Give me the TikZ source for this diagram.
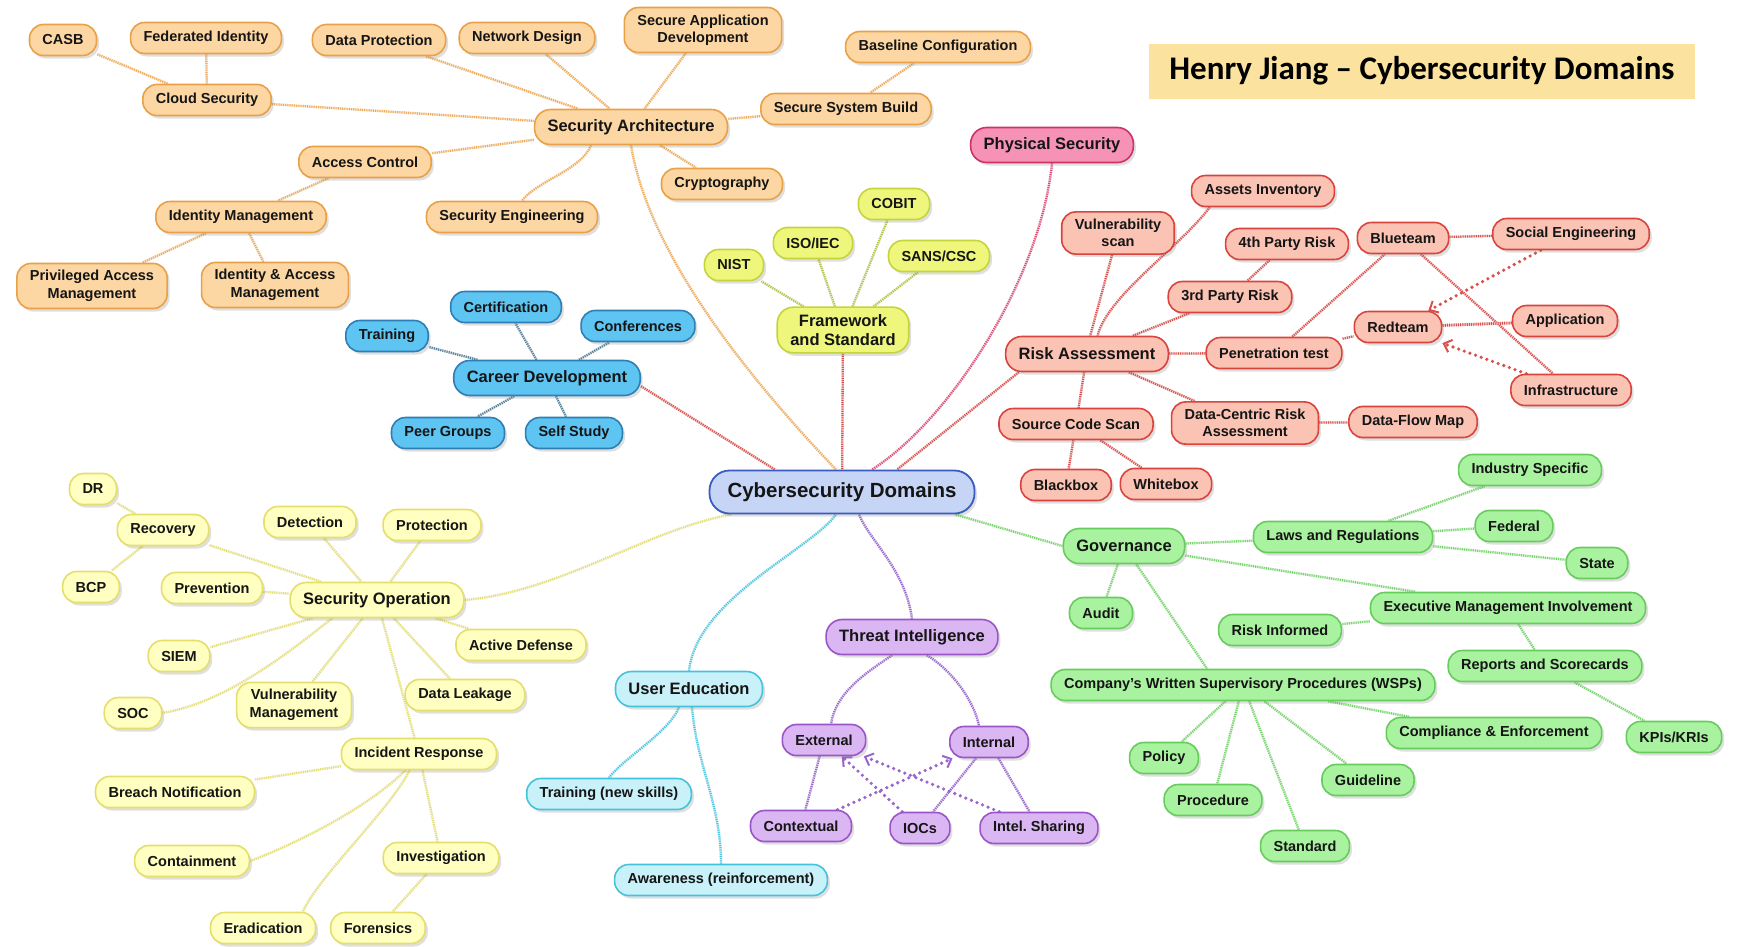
\documentclass[tikz,border=0pt]{standalone}
\usepackage{fontspec}
\setmainfont{Liberation Sans}
\newfontfamily\titlefont{Carlito}
\usetikzlibrary{shadows,arrows.meta,calc}
\pgfdeclarelayer{bg}
\pgfdeclarelayer{links}
\pgfsetlayers{bg,links,main}

\definecolor{orF}{HTML}{FDD7A3}\definecolor{orD}{HTML}{E9A046}\definecolor{orL}{HTML}{EDAA5A}
\definecolor{blF}{HTML}{5EC4F2}\definecolor{blD}{HTML}{2D7FB5}\definecolor{blL}{HTML}{557F99}
\definecolor{ygF}{HTML}{EEF77C}\definecolor{ygD}{HTML}{C4D43C}\definecolor{ygL}{HTML}{B3C24A}
\definecolor{pkF}{HTML}{F592B5}\definecolor{pkD}{HTML}{CC3366}\definecolor{pkL}{HTML}{DC4C74}
\definecolor{rdF}{HTML}{FAC3B3}\definecolor{rdD}{HTML}{D9443F}\definecolor{rdL}{HTML}{D9504C}
\definecolor{ceF}{HTML}{C6D4F6}\definecolor{ceD}{HTML}{3A5CC0}
\definecolor{grF}{HTML}{A9F2A0}\definecolor{grD}{HTML}{66CC5C}\definecolor{grL}{HTML}{77D46C}
\definecolor{puF}{HTML}{DAB6F2}\definecolor{puD}{HTML}{9C55C8}\definecolor{puL}{HTML}{9966CC}
\definecolor{cyF}{HTML}{C9F1F9}\definecolor{cyD}{HTML}{45C3DB}\definecolor{cyL}{HTML}{4CC6DE}
\definecolor{yeF}{HTML}{FFFFC2}\definecolor{yeD}{HTML}{E6DE6A}\definecolor{yeL}{HTML}{E3DD78}
\definecolor{titleF}{HTML}{FBE29F}
\definecolor{txt}{HTML}{151515}

\tikzset{
  box/.style={rectangle, rounded corners=14pt, line width=1.6pt, align=center, text=txt,
    font=\bfseries\fontsize{14.5}{17.5}\selectfont, inner xsep=13pt, inner ysep=5pt,
    minimum height=31pt,
    drop shadow={shadow xshift=2.5pt, shadow yshift=-3pt, opacity=0.25}},
  mid/.style={font=\bfseries\fontsize{16.5}{19.5}\selectfont, minimum height=35pt, rounded corners=16pt},
  two/.style={inner ysep=7pt},
  cen/.style={box, draw=ceD, fill=ceF, font=\bfseries\fontsize{20.5}{24}\selectfont,
    minimum height=43pt, rounded corners=20pt, inner xsep=18pt, line width=1.8pt},
  orn/.style={box, draw=orD, fill=orF},
  bln/.style={box, draw=blD, fill=blF},
  ygn/.style={box, draw=ygD, fill=ygF},
  pkn/.style={box, draw=pkD, fill=pkF},
  rdn/.style={box, draw=rdD, fill=rdF},
  grn/.style={box, draw=grD, fill=grF},
  pun/.style={box, draw=puD, fill=puF},
  cyn/.style={box, draw=cyD, fill=cyF},
  yen/.style={box, draw=yeD, fill=yeF},
  lk/.style={draw=#1, line width=2.3pt, dash pattern=on 1pt off 1.2pt,
    preaction={draw=#1!30, line width=2.3pt, solid}},
  ar/.style={draw=#1, line width=3.6pt, line cap=round, dash pattern=on 0pt off 6pt,
    -{Straight Barb[length=7pt,width=13pt,line width=2pt]}},
}

\begin{document}
\begin{tikzpicture}[x=1pt,y=-1pt]
\useasboundingbox (0,0) rectangle (1737,946);
\begin{pgfonlayer}{bg}
\fill[white] (0,0) rectangle (1737,946);
\end{pgfonlayer}

% title
\node[fill=titleF, minimum width=546pt, minimum height=55pt, inner sep=0pt,
  font=\titlefont\bfseries\fontsize{33}{38}\selectfont, text=black] (title) at (1422,71)
  {Henry Jiang – Cybersecurity Domains};

% central
\node[cen] (c) at (842,492) {Cybersecurity Domains};

% security architecture
\node[orn] (casb) at (63,40) {CASB};
\node[orn] (fed) at (206,38) {Federated Identity};
\node[orn] (cloud) at (207,100) {Cloud Security};
\node[orn] (dprot) at (379,40) {Data Protection};
\node[orn] (netd) at (527,38) {Network Design};
\node[orn,two] (sad) at (703,30) {Secure Application\\Development};
\node[orn] (base) at (938,47) {Baseline Configuration};
\node[orn] (ssb) at (846,109) {Secure System Build};
\node[orn,mid] (sa) at (631,127) {Security Architecture};
\node[orn] (ac) at (365,162) {Access Control};
\node[orn] (crypt) at (722,184) {Cryptography};
\node[orn] (idm) at (241,217) {Identity Management};
\node[orn] (seng) at (512,217) {Security Engineering};
\node[orn,two] (pam) at (92,286) {Privileged Access\\Management};
\node[orn,two] (iam) at (275,285) {Identity \& Access\\Management};

% career development
\node[bln] (cert) at (506,307) {Certification};
\node[bln] (trn) at (387,336) {Training};
\node[bln] (conf) at (638,326) {Conferences};
\node[bln,mid] (cd) at (547,378) {Career Development};
\node[bln] (peer) at (448,433) {Peer Groups};
\node[bln] (self) at (574,433) {Self Study};

% framework
\node[ygn] (nist) at (734,265) {NIST};
\node[ygn] (iso) at (813,243) {ISO/IEC};
\node[ygn] (cobit) at (894,204) {COBIT};
\node[ygn] (sans) at (939,256) {SANS/CSC};
\node[ygn,mid,two] (fs) at (843,330) {Framework\\and Standard};

% physical
\node[pkn,mid] (phys) at (1052,145) {Physical Security};

% risk assessment
\node[rdn] (assets) at (1263,191) {Assets Inventory};
\node[rdn,two] (vscan) at (1118,233) {Vulnerability\\scan};
\node[rdn] (p4) at (1287,244) {4th Party Risk};
\node[rdn] (blue) at (1403,238) {Blueteam};
\node[rdn] (socen) at (1571,234) {Social Engineering};
\node[rdn] (p3) at (1230,297) {3rd Party Risk};
\node[rdn] (red) at (1398,327) {Redteam};
\node[rdn] (app) at (1565,321) {Application};
\node[rdn,mid] (ra) at (1087,354) {Risk Assessment};
\node[rdn] (pen) at (1274,353) {Penetration test};
\node[rdn] (infra) at (1571,390) {Infrastructure};
\node[rdn] (scs) at (1076,424) {Source Code Scan};
\node[rdn,two] (dcra) at (1245,423) {Data-Centric Risk\\Assessment};
\node[rdn] (dfm) at (1413,422) {Data-Flow Map};
\node[rdn] (bb) at (1066,485) {Blackbox};
\node[rdn] (wb) at (1166,484) {Whitebox};

% governance
\node[grn] (ind) at (1530,470) {Industry Specific};
\node[grn] (laws) at (1343,537) {Laws and Regulations};
\node[grn] (fed2) at (1514,526) {Federal};
\node[grn,mid] (gov) at (1124,546) {Governance};
\node[grn] (state) at (1597,563) {State};
\node[grn] (audit) at (1101,613) {Audit};
\node[grn] (exec) at (1508,608) {Executive Management Involvement};
\node[grn] (risk) at (1280,630) {Risk Informed};
\node[grn] (rep) at (1545,666) {Reports and Scorecards};
\node[grn] (wsp) at (1243,685) {Company's Written Supervisory Procedures (WSPs)};
\node[grn] (comp) at (1494,733) {Compliance \& Enforcement};
\node[grn] (kpi) at (1674,737) {KPIs/KRIs};
\node[grn] (pol) at (1164,758) {Policy};
\node[grn] (guide) at (1368,780) {Guideline};
\node[grn] (proc) at (1213,800) {Procedure};
\node[grn] (std) at (1305,846) {Standard};

% threat intelligence
\node[pun,mid] (ti) at (912,637) {Threat Intelligence};
\node[pun] (ext) at (824,740) {External};
\node[pun] (int) at (989,742) {Internal};
\node[pun] (ctx) at (801,826) {Contextual};
\node[pun] (iocs) at (920,828) {IOCs};
\node[pun] (share) at (1039,828) {Intel.\ Sharing};

% user education
\node[cyn,mid] (ue) at (689,689) {User Education};
\node[cyn] (tns) at (609,794) {Training (new skills)};
\node[cyn] (awr) at (721,880) {Awareness (reinforcement)};

% security operation
\node[yen] (dr) at (93,489) {DR};
\node[yen] (rec) at (163,530) {Recovery};
\node[yen] (det) at (310,522) {Detection};
\node[yen] (prot) at (432,525) {Protection};
\node[yen] (bcp) at (91,587) {BCP};
\node[yen] (prev) at (212,588) {Prevention};
\node[yen,mid] (so) at (377,600) {Security Operation};
\node[yen] (act) at (521,645) {Active Defense};
\node[yen] (siem) at (179,656) {SIEM};
\node[yen] (soc) at (133,713) {SOC};
\node[yen,two] (vm) at (294,705) {Vulnerability\\Management};
\node[yen] (dl) at (465,695) {Data Leakage};
\node[yen] (ir) at (419,754) {Incident Response};
\node[yen] (bn) at (175,792) {Breach Notification};
\node[yen] (cont) at (192,861) {Containment};
\node[yen] (inv) at (441,858) {Investigation};
\node[yen] (erad) at (263,928) {Eradication};
\node[yen] (fore) at (378,928) {Forensics};

\begin{pgfonlayer}{links}
% central links
\draw[lk=orL] (sa.south) .. controls +(19,116) and +(-76,-80) .. ([xshift=-6pt]c.north);
\draw[lk=rdL] (cd.-5) -- ([xshift=-67pt]c.north);
\draw[lk=rdL] (fs) -- (c);
\draw[lk=pkL] (phys.south) .. controls +(-12,117) and +(78,-50) .. ([xshift=30pt]c.north);
\draw[lk=rdL] (ra.-165) -- ([xshift=55pt]c.north);
\draw[lk=yeL] (so.east) .. controls +(95,-8) and +(-82,14) .. ([xshift=-110pt]c.south);
\draw[lk=cyL] (ue.north) .. controls +(8,-72) and +(-26,36) .. ([xshift=-6pt]c.south);
\draw[lk=puL] (ti.north) .. controls +(-7,-50) and +(11,27) .. ([xshift=17pt]c.south);
\draw[lk=grL] (gov.west) -- ([xshift=113pt]c.south);

% security architecture
\draw[lk=orL] (casb) -- (cloud);
\draw[lk=orL] (fed) -- (cloud);
\draw[lk=orL] (cloud) -- (sa);
\draw[lk=orL] (dprot) -- (sa);
\draw[lk=orL] (netd) -- (sa);
\draw[lk=orL] (sad) -- (sa);
\draw[lk=orL] (base) -- (ssb);
\draw[lk=orL] (ssb) -- (sa);
\draw[lk=orL] (sa) -- (ac);
\draw[lk=orL] (sa) -- (crypt);
\draw[lk=orL] ([xshift=-40pt]sa.south) .. controls +(-10,25) and +(15,-20) .. ([xshift=10pt]seng.north);
\draw[lk=orL] (ac) -- (idm);
\draw[lk=orL] (idm) -- (pam);
\draw[lk=orL] (idm) -- (iam);

% career
\draw[lk=blL] (cd) -- (trn);
\draw[lk=blL] (cd) -- (cert);
\draw[lk=blL] (cd) -- (conf);
\draw[lk=blL] (cd) -- (peer);
\draw[lk=blL] (cd) -- (self);

% framework
\draw[lk=ygL] (fs) -- (nist);
\draw[lk=ygL] (fs) -- (iso);
\draw[lk=ygL] (fs) -- (cobit);
\draw[lk=ygL] (fs) -- (sans);

% risk
\draw[lk=rdL] (vscan) -- (ra.80);
\draw[lk=rdL] (assets.-163) .. controls +(-30,40) and +(10,-40) .. (ra.60);
\draw[lk=rdL] (p4) -- (p3);
\draw[lk=rdL] (p3) -- (ra);
\draw[lk=rdL] (ra) -- (pen);
\draw[lk=rdL] (pen) -- (blue);
\draw[lk=rdL] (pen) -- (red);
\draw[lk=rdL] (blue) -- (socen);
\draw[lk=rdL] (blue) -- (infra);
\draw[lk=rdL, line width=3pt] (app) -- (red);
\draw[ar=rdL] (socen) -- (red);
\draw[ar=rdL] (infra) -- (red);
\draw[lk=rdL] (ra) -- (scs);
\draw[lk=rdL] (ra) -- (dcra);
\draw[lk=rdL] (dcra) -- (dfm);
\draw[lk=rdL] (scs) -- (bb);
\draw[lk=rdL] (scs) -- (wb);

% governance
\draw[lk=grL] (gov) -- (laws);
\draw[lk=grL] (laws) -- (ind);
\draw[lk=grL] (laws) -- (fed2);
\draw[lk=grL] (laws) -- (state);
\draw[lk=grL] (gov) -- (audit);
\draw[lk=grL] (gov) -- (exec.170);
\draw[lk=grL] (gov) -- ([xshift=-36pt]wsp.north);
\draw[lk=grL] (exec) -- (risk);
\draw[lk=grL] (exec) -- (rep);
\draw[lk=grL] (rep) -- (kpi);
\draw[lk=grL] (wsp) -- (comp);
\draw[lk=grL] (wsp) -- (pol);
\draw[lk=grL] (wsp) -- (proc);
\draw[lk=grL] (wsp) -- (std);
\draw[lk=grL] (wsp) -- (guide);

% threat intelligence
\draw[lk=puL] ([xshift=-20pt]ti.south) .. controls +(-30,20) and +(5,-30) .. ([xshift=7pt]ext.north);
\draw[lk=puL] ([xshift=15pt]ti.south) .. controls +(25,15) and +(-5,-25) .. ([xshift=-10pt]int.north);
\draw[lk=puL] (ext) -- (ctx);
\draw[lk=puL] (int) -- (iocs);
\draw[lk=puL] (int) -- (share);
\draw[ar=puL] (ctx) -- (int);
\draw[ar=puL] (iocs) -- (ext);
\draw[ar=puL] (share) -- (ext);

% user education
\draw[lk=cyL] ([xshift=-10pt]ue.south) .. controls +(-10,25) and +(15,-20) .. (tns.north);
\draw[lk=cyL] ([xshift=3pt]ue.south) .. controls +(5,60) and +(0,-60) .. (awr.north);

% security operation
\draw[lk=yeL] (rec) -- (dr);
\draw[lk=yeL] (rec) -- (bcp);
\draw[lk=yeL] (rec) -- (so);
\draw[lk=yeL] (det) -- (so);
\draw[lk=yeL] (prot) -- (so);
\draw[lk=yeL] (prev) -- (so);
\draw[lk=yeL] (so) -- (act);
\draw[lk=yeL] (so) -- (siem);
\draw[lk=yeL] ([xshift=-45pt]so.south) .. controls +(-50,40) and +(60,-10) .. (soc.east);
\draw[lk=yeL] (so) -- (vm);
\draw[lk=yeL] (so) -- (dl);
\draw[lk=yeL] (so) -- (ir);
\draw[lk=yeL] (ir) -- (bn);
\draw[lk=yeL] (ir.-130) .. controls +(-40,40) and +(40,-15) .. (cont.east);
\draw[lk=yeL] (ir.-120) .. controls +(-20,40) and +(15,-35) .. ([xshift=40pt]erad.north);
\draw[lk=yeL] (ir) -- (inv);
\draw[lk=yeL] (inv) -- (fore);
\end{pgfonlayer}
\end{tikzpicture}
\end{document}
